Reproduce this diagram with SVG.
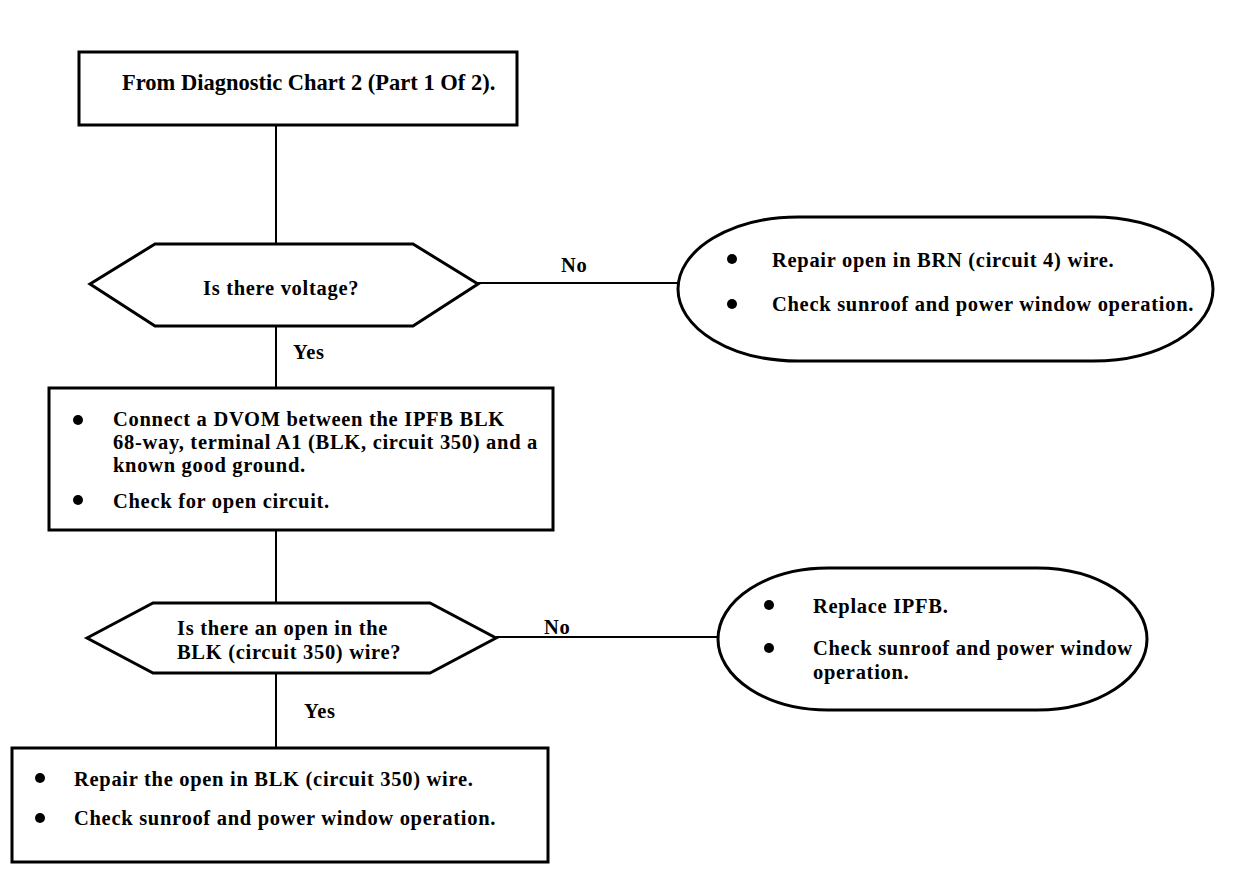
<svg xmlns="http://www.w3.org/2000/svg" width="1248" height="894" viewBox="0 0 1248 894">
<style>
.sh{fill:#fff;stroke:#000;stroke-width:3;stroke-linejoin:miter}
.ln{stroke:#000;stroke-width:2;fill:none}
text{font-family:"Liberation Serif","Times New Roman",serif;font-size:20.5px;letter-spacing:0.7px;font-weight:bold;fill:#000}
.b{font-size:22.5px;letter-spacing:0}
.dot{fill:#000}
</style>
<rect width="1248" height="894" fill="#fff"/>
<g id="connectors">
<line class="ln" x1="276" y1="125" x2="276" y2="244"/>
<line class="ln" x1="276" y1="326" x2="276" y2="388"/>
<line class="ln" x1="478" y1="283" x2="679" y2="283"/>
<line class="ln" x1="276" y1="530" x2="276" y2="603"/>
<line class="ln" x1="276" y1="673" x2="276" y2="748"/>
<line class="ln" x1="496" y1="637" x2="719" y2="637"/>
<text x="561" y="272">No</text>
<text x="293" y="359">Yes</text>
<text x="544" y="634">No</text>
<text x="304" y="718">Yes</text>
</g>
<g id="start">
<rect class="sh" x="79" y="52" width="438" height="73"/>
<text class="b" x="122" y="90">From Diagnostic Chart 2 (Part 1 Of 2).</text>
</g>
<g id="q1">
<polygon class="sh" points="90,284 155,244 413,244 478,284 413,326 155,326"/>
<text x="203" y="295">Is there voltage?</text>
</g>
<g id="r1">
<rect class="sh" x="678" y="217" width="535" height="144" rx="120" ry="72"/>
<circle class="dot" cx="732" cy="259" r="5"/>
<circle class="dot" cx="732" cy="304" r="5"/>
<text x="772" y="267">Repair open in BRN (circuit 4) wire.</text>
<text x="772" y="311">Check sunroof and power window operation.</text>
</g>
<g id="step2">
<rect class="sh" x="49" y="388" width="504" height="142"/>
<circle class="dot" cx="78" cy="420" r="5"/>
<circle class="dot" cx="78" cy="500" r="5"/>
<text x="113" y="426">Connect a DVOM between the IPFB BLK</text>
<text x="113" y="449">68-way, terminal A1 (BLK, circuit 350) and a</text>
<text x="113" y="472">known good ground.</text>
<text x="113" y="508">Check for open circuit.</text>
</g>
<g id="q2">
<polygon class="sh" points="87,638 153,603 430,603 496,638 430,673 153,673"/>
<text x="177" y="635">Is there an open in the</text>
<text x="177" y="659">BLK (circuit 350) wire?</text>
</g>
<g id="r2">
<rect class="sh" x="718" y="568" width="429" height="142" rx="110" ry="71"/>
<circle class="dot" cx="769" cy="605" r="5"/>
<circle class="dot" cx="769" cy="648" r="5"/>
<text x="813" y="613">Replace IPFB.</text>
<text x="813" y="655">Check sunroof and power window</text>
<text x="813" y="679">operation.</text>
</g>
<g id="r3">
<rect class="sh" x="12" y="748" width="536" height="114"/>
<circle class="dot" cx="40" cy="778" r="5"/>
<circle class="dot" cx="40" cy="818" r="5"/>
<text x="74" y="786">Repair the open in BLK (circuit 350) wire.</text>
<text x="74" y="825">Check sunroof and power window operation.</text>
</g>
</svg>
